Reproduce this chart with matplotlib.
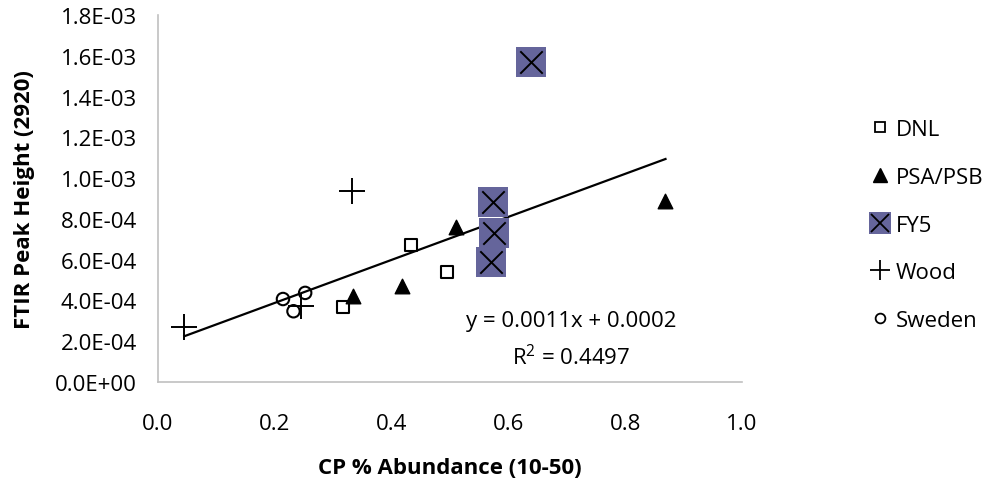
import matplotlib
matplotlib.use("Agg")
import matplotlib.pyplot as plt
import numpy as np
from matplotlib.lines import Line2D

plt.rcParams['font.family'] = ['Open Sans', 'DejaVu Sans']
plt.rcParams['mathtext.default'] = 'regular'

dnl_x = [0.433, 0.495, 0.317]
dnl_y = [6.72e-4, 5.41e-4, 3.66e-4]
psa_x = [0.334, 0.418, 0.510, 0.869]
psa_y = [4.23e-4, 4.69e-4, 7.59e-4, 8.89e-4]
fy5_x = [0.638, 0.573, 0.576, 0.570]
fy5_y = [1.571e-3, 8.84e-4, 7.29e-4, 5.90e-4]
wood_x = [0.045, 0.332, 0.245]
wood_y = [2.68e-4, 9.38e-4, 3.74e-4]
swe_x = [0.214, 0.252, 0.232]
swe_y = [4.07e-4, 4.37e-4, 3.47e-4]

trend_slope = 1.055e-3
trend_intercept = 1.77e-4
eq_text = "y = 0.0011x + 0.0002"
r2_text = "R$^2$ = 0.4497"

xticks = [0.0, 0.2, 0.4, 0.6, 0.8, 1.0]
yticks = [0.0, 2e-4, 4e-4, 6e-4, 8e-4, 1.0e-3, 1.2e-3, 1.4e-3, 1.6e-3, 1.8e-3]
ytick_labels = ["0.0E+00", "2.0E-04", "4.0E-04", "6.0E-04", "8.0E-04",
                "1.0E-03", "1.2E-03", "1.4E-03", "1.6E-03", "1.8E-03"]

FS = 16
W, H = 989, 485
fig = plt.figure(figsize=(W/100, H/100), dpi=100)
ax = fig.add_axes([158/W, 1-383/H, (742-158)/W, (383-16)/H])

all_x = np.array(dnl_x + psa_x + fy5_x + wood_x + swe_x)
xs = np.array([all_x.min(), all_x.max()])
ax.plot(xs, trend_slope*xs + trend_intercept, color='black', lw=1.6, zorder=2)

ax.scatter(dnl_x, dnl_y, marker='s', s=70, facecolor='white', edgecolor='black', linewidth=1.5, zorder=3)
ax.scatter(psa_x, psa_y, marker='^', s=110, color='black', zorder=3)
ax.scatter(fy5_x, fy5_y, marker='s', s=480, color='#65659b', linewidth=0, zorder=3)
ax.scatter(fy5_x, fy5_y, marker='x', s=260, color='black', linewidth=1.4, zorder=4)
ax.scatter(wood_x, wood_y, marker='+', s=330, color='black', linewidth=1.4, zorder=3)
ax.scatter(swe_x, swe_y, marker='o', s=80, facecolor='none', edgecolor='black', linewidth=1.5, zorder=3)

ax.set_xlim(0, 1)
ax.set_ylim(0, 1.8e-3)
ax.set_xticks(xticks)
ax.set_xticklabels([f"{v:.1f}" for v in xticks])
ax.set_yticks(yticks)
ax.set_yticklabels(ytick_labels)
ax.tick_params(length=0, labelsize=FS)
ax.tick_params(axis='y', pad=15)
ax.tick_params(axis='x', pad=22)
for s in ['top', 'right']:
    ax.spines[s].set_visible(False)
for s in ['left', 'bottom']:
    ax.spines[s].set_color('#c0c0c0')
    ax.spines[s].set_linewidth(1.2)

fig.text(25/W, 1-200/H, "FTIR Peak Height (2920)", rotation=90, fontsize=FS,
         fontweight='bold', ha='center', va='center')
fig.text(450/W, 1-469/H, "CP % Abundance (10-50)", fontsize=FS,
         fontweight='bold', ha='center', va='center')

ax.text(0.707, 3.01e-4, eq_text, fontsize=FS, ha='center', va='center')
ax.text(0.707, 1.23e-4, r2_text, fontsize=FS, ha='center', va='center')

l_dnl = Line2D([], [], marker='s', ls='', ms=7, mfc='white', mec='black', mew=1.3)
l_psa = Line2D([], [], marker='^', ls='', ms=10, color='black')
l_fy5a = Line2D([], [], marker='s', ls='', ms=16, color='#65659b', mew=0)
l_fy5b = Line2D([], [], marker='x', ls='', ms=13, color='black', mew=1.3)
l_wood = Line2D([], [], marker='+', ls='', ms=15, color='black', mew=1.3)
l_swe = Line2D([], [], marker='o', ls='', ms=7, mfc='none', mec='black', mew=1.3)
fig.legend([l_dnl, l_psa, (l_fy5a, l_fy5b), l_wood, l_swe],
           ["DNL", "PSA/PSB", "FY5", "Wood", "Sweden"],
           loc='center left', bbox_to_anchor=(871/W, 1-226/H), frameon=False,
           fontsize=FS, labelspacing=1.2, handlelength=0.8, handletextpad=0.3,
           borderaxespad=0, borderpad=0)

fig.savefig("out.png", dpi=100)
